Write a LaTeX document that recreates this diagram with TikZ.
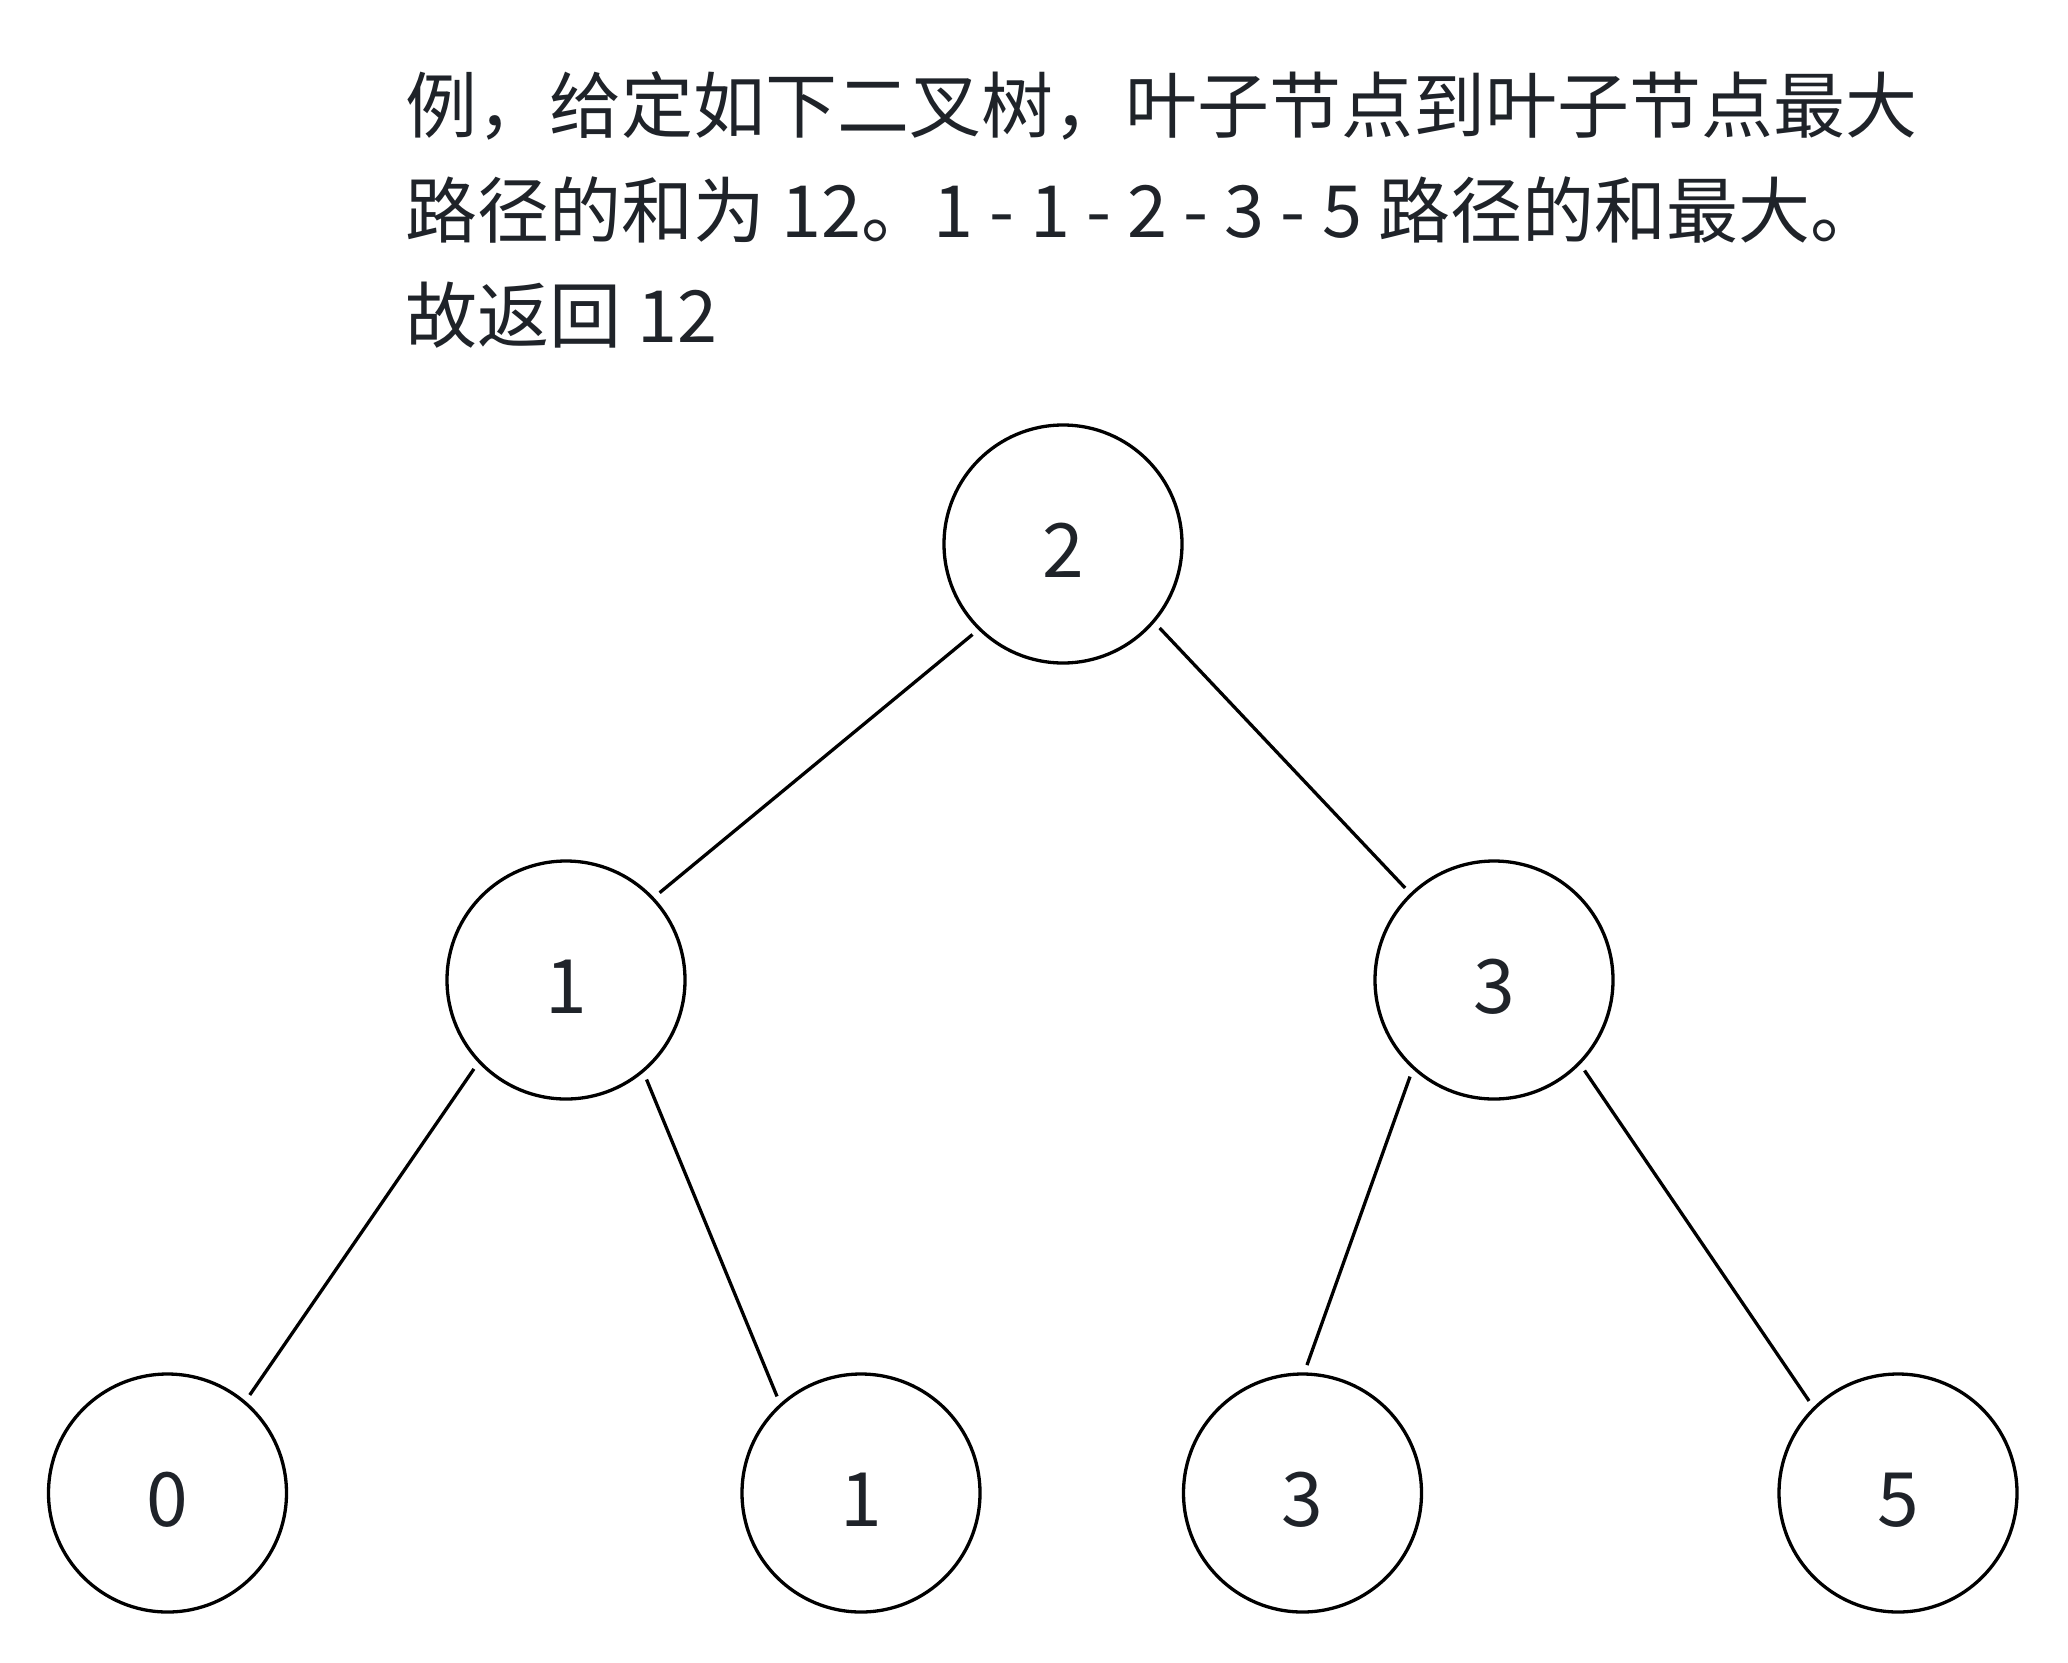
\documentclass[tikz,border=0pt]{standalone}
\usepackage{fontspec}
\newfontfamily\cjk{Noto Sans CJK SC}
\definecolor{txt}{RGB}{31,35,41}
\begin{document}
\begin{tikzpicture}[x=1pt,y=-1pt,
  tnode/.style={circle,draw=black,line width=3.3pt,minimum size=238pt,inner sep=0pt,outer sep=9pt,
    font=\cjk\fontsize{75}{75}\selectfont,text=txt,text height=66pt,text depth=0pt},
  para/.style={anchor=base west,inner sep=0pt,font=\cjk\fontsize{72}{105}\selectfont,text=txt},
  edge/.style={line width=3.3pt,draw=black}]
\useasboundingbox[fill=white] (0,0) rectangle (2068,1662);
\node[para] (l1) at (405,132) {例，给定如下二叉树，叶子节点到叶子节点最大};
\node[para] (l2) at (405,237) {路径的和为 12。1 - 1 - 2 - 3 - 5 路径的和最大。};
\node[para] (l3) at (405,342) {故返回 12};
\node[tnode] (r) at (1063,544) {2};
\node[tnode] (a) at (566,980) {1};
\node[tnode] (b) at (1494,980) {3};
\node[tnode] (c) at (167.5,1493) {0};
\node[tnode] (d) at (861,1493) {1};
\node[tnode] (e) at (1302.5,1493) {3};
\node[tnode] (f) at (1898,1493) {5};
\draw[edge] (r.225.6) -- (a.43.7);
\draw[edge] (r.-41.5) -- (b.134.4);
\draw[edge] (a.224.4) -- (c.50.9);
\draw[edge] (a.-51.1) -- (d.131.1);
\draw[edge] (b.-131.5) -- (e.88.9);
\draw[edge] (b.-45) -- (f.134.7);
\end{tikzpicture}
\end{document}
